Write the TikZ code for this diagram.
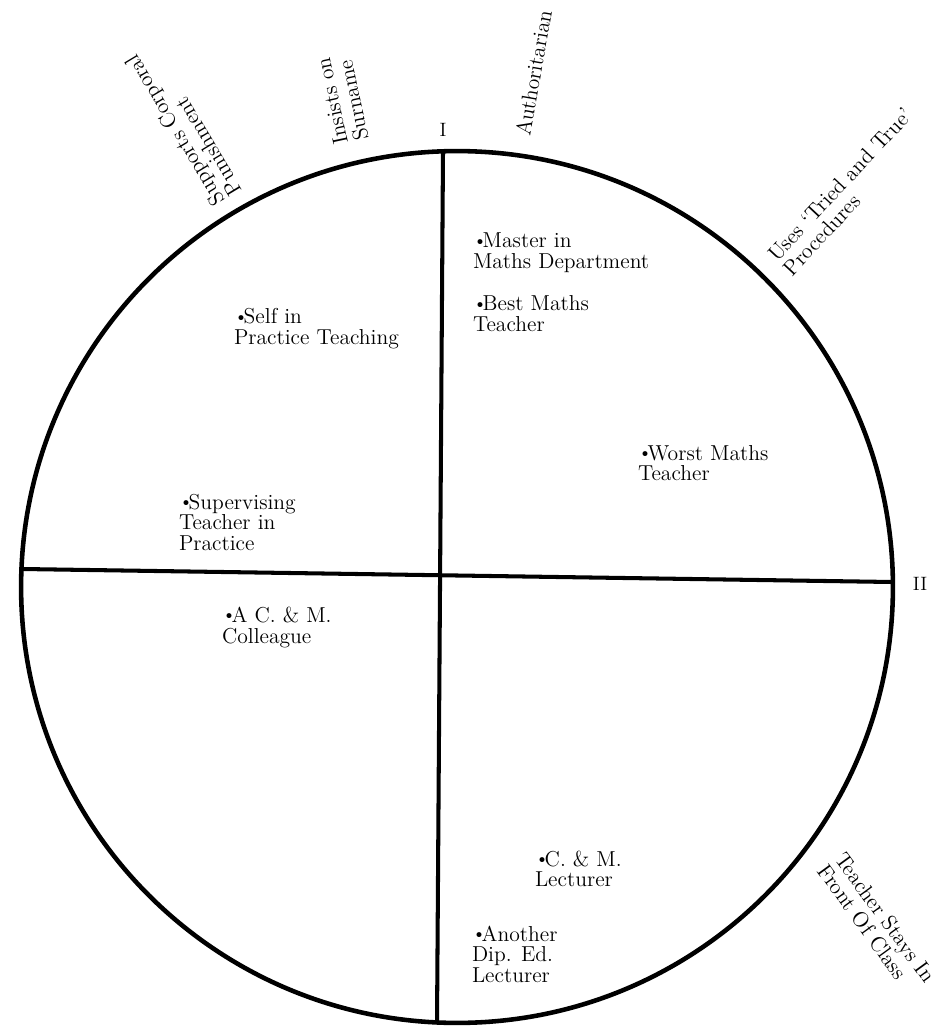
\documentclass[tikz,border=0pt]{standalone}
\usepackage{graphicx}
% small raised bullet placed in front of each entry
\newcommand{\dotmark}{\makebox[0.45em][l]{\raisebox{0.06em}{\scalebox{0.85}{\textbullet}}}}
% left-aligned lines whose baseline is that of the first line
\newcommand{\lines}[1]{\begin{tabular}[t]{@{}l@{}}#1\end{tabular}}
\begin{document}
\begin{tikzpicture}[x=0.02cm, y=-0.02cm,
  every node/.style={inner sep=0pt, outer sep=0pt},
  entry/.style={font=\fontsize{12.3}{11.2}\selectfont, anchor=base west},
  axislabel/.style={font=\fontsize{11}{12}\selectfont},
  spoke/.style={line width=2.3pt},
  rim/.style={draw, line width=2.6pt, circle, minimum size=17.44cm}]
\useasboundingbox (0,0) rectangle (934,1026);

% the circle and its two dividing lines
\node[rim] (rim) at (457,587) {};
\coordinate (topend) at (443,151);
\coordinate (bottomend) at (437,1023);
\coordinate (leftend) at (22,569);
\coordinate (rightend) at (892,582);
\draw[spoke] (topend) -- (bottomend);
\draw[spoke] (leftend) -- (rightend);

% axis marks
\node[axislabel] (axisI) at (443,130) {I};
\node[axislabel] (axisII) at (920,584) {II};

% constructs written round the rim
\node[entry, rotate=80] (authoritarian) at (530,137) {Authoritarian};
\node[entry, rotate=102] (surname) at (348,143) {\lines{Insists on\\Surname}};
\node[entry, rotate=121] (corporal) at (225,201) {\lines{Supports Corporal\\Punishment}};
\node[entry, rotate=47] (procedures) at (777,263) {\lines{Uses `Tried and True'\\Procedures}};
\node[entry, rotate=-54] (front) at (834,859) {\lines{Teacher Stays In\\Front Of Class}};

% elements placed inside the quadrants
\node[entry] (master) at (473,248) {\lines{\dotmark Master in\\Maths Department}};
\node[entry] (best) at (473,311) {\lines{\dotmark Best Maths\\Teacher}};
\node[entry] (worst) at (638,460) {\lines{\dotmark Worst Maths\\Teacher}};
\node[entry] (self) at (234,324) {\lines{\dotmark Self in\\Practice Teaching}};
\node[entry] (supervising) at (179,509) {\lines{\dotmark Supervising\\Teacher in\\Practice}};
\node[entry] (colleague) at (222,622) {\lines{\dotmark A C. \& M.\\Colleague}};
\node[entry] (lecturer) at (535,866) {\lines{\dotmark C. \& M.\\Lecturer}};
\node[entry] (another) at (472,941) {\lines{\dotmark Another\\Dip. Ed.\\Lecturer}};
\end{tikzpicture}
\end{document}
